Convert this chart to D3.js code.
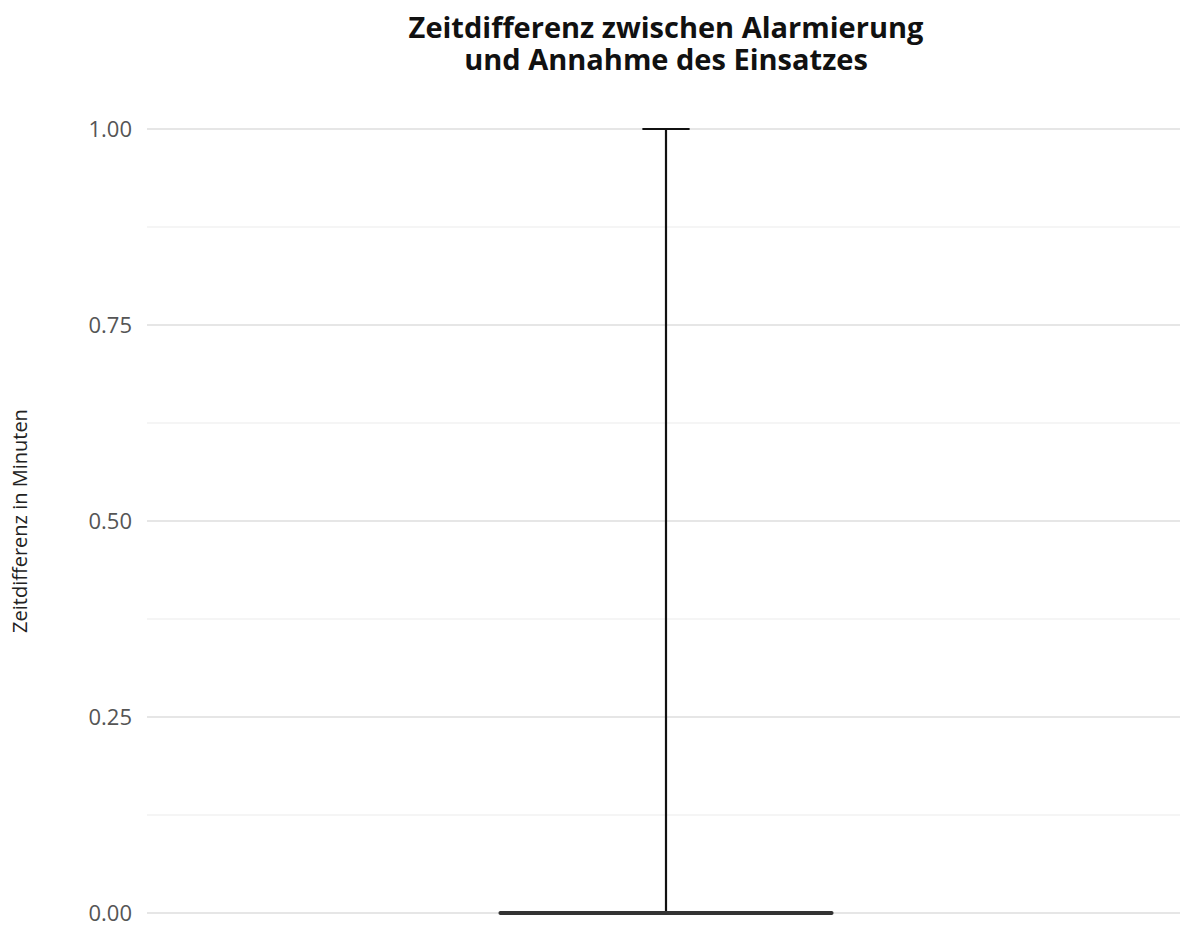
<!DOCTYPE html>
<html><head><meta charset="utf-8">
<script src="https://cdn.jsdelivr.net/npm/d3@7"></script>
<style>body{margin:0;background:#fff}</style>
</head><body>
<svg id="chart" width="1180" height="925"></svg>
<script>
const categories = [""];
const lowerWhisker = [0];
const q1 = [0];
const median = [0];
const q3 = [0];
const upperWhisker = [1];
const yTicks = [0, 0.25, 0.5, 0.75, 1];
const yMinor = [0.125, 0.375, 0.625, 0.875];
const titleLines = ["Zeitdifferenz zwischen Alarmierung", "und Annahme des Einsatzes"];
const yLabel = "Zeitdifferenz in Minuten";

(function () {
const svg = d3.select("#chart");
const mLeft = 147, mRight = 1185, mTop = 129, mBottom = 913;
const x = d3.scaleBand().domain(categories).range([mLeft, mRight]).padding(0);
const y = d3.scaleLinear().domain([0, 1]).range([mBottom, mTop]);
const bw = x.bandwidth();
const boxW = bw * 0.319, capW = bw * 0.0455;

// grid
svg.append("g").selectAll("line").data(yMinor).join("line")
  .attr("x1", mLeft).attr("x2", 1180).attr("y1", d => y(d)).attr("y2", d => y(d))
  .attr("stroke", "#ebebeb").attr("stroke-width", 1);
svg.append("g").selectAll("line").data(yTicks).join("line")
  .attr("x1", mLeft).attr("x2", 1180).attr("y1", d => y(d)).attr("y2", d => y(d))
  .attr("stroke", "#e6e6e6").attr("stroke-width", 2);

// y axis labels
const yAxis = d3.axisLeft(y).tickValues(yTicks).tickFormat(d3.format(".2f")).tickSize(0).tickPadding(15);
const ga = svg.append("g").attr("transform", `translate(${mLeft},0)`).call(yAxis);
ga.select(".domain").remove();
ga.selectAll("text").attr("font-family", "'Open Sans', sans-serif").attr("font-size", 22).attr("fill", "#555");

// errorbar + box
const g = svg.append("g");
categories.forEach((c, i) => {
  const cx = x(c) + bw / 2;
  g.append("line").attr("x1", cx).attr("x2", cx).attr("y1", y(lowerWhisker[i])).attr("y2", y(upperWhisker[i]))
    .attr("stroke", "#111").attr("stroke-width", 2.2);
  [lowerWhisker[i], upperWhisker[i]].forEach(v => {
    g.append("line").attr("x1", cx - capW / 2).attr("x2", cx + capW / 2).attr("y1", y(v)).attr("y2", y(v))
      .attr("stroke", "#111").attr("stroke-width", 2.2);
  });
  g.append("rect").attr("x", cx - boxW / 2).attr("width", boxW)
    .attr("y", y(q3[i])).attr("height", Math.max(0, y(q1[i]) - y(q3[i])))
    .attr("fill", "#fff").attr("stroke", "#333").attr("stroke-width", 1.5);
  g.append("line").attr("x1", cx - boxW / 2).attr("x2", cx + boxW / 2).attr("y1", y(median[i])).attr("y2", y(median[i]))
    .attr("stroke", "#333").attr("stroke-width", 4).attr("stroke-linecap", "round");
});

// title
const cxTitle = (mLeft + mRight) / 2;
const title = svg.append("text").attr("x", cxTitle).attr("y", 38).attr("text-anchor", "middle")
  .attr("font-family", "'Open Sans', sans-serif").attr("font-weight", "bold").attr("font-size", 29).attr("fill", "#111");
titleLines.forEach((t, i) => {
  title.append("tspan").attr("x", cxTitle).attr("dy", i === 0 ? 0 : 32).text(t);
});

// y label
svg.append("text").attr("transform", `translate(27,${(mTop + mBottom) / 2}) rotate(-90)`).attr("text-anchor", "middle")
  .attr("font-family", "'Open Sans', sans-serif").attr("font-size", 20).attr("fill", "#222")
  .text(yLabel);
})();
</script>
</body></html>
